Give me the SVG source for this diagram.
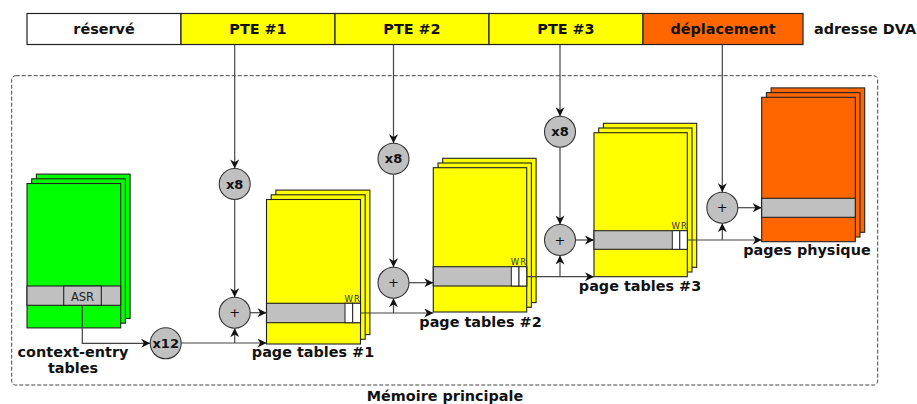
<svg xmlns="http://www.w3.org/2000/svg" width="917" height="404" viewBox="0 0 917 404">
<defs>
<style>
.cell{stroke:#222;stroke-width:1.2}
.pg{stroke:#222;stroke-width:1.1}
.band{fill:#c0c0c0;stroke:#222;stroke-width:1.1}
.wr{fill:#fff;stroke:#222;stroke-width:1}
.op{fill:#c0c0c0;stroke:#333;stroke-width:1.1}
.t{font-family:"DejaVu Sans","Liberation Sans",sans-serif;font-weight:bold;font-size:14.4px;fill:#111;text-anchor:middle}
.ot{font-family:"DejaVu Sans","Liberation Sans",sans-serif;font-size:13px;fill:#111;text-anchor:middle}
.ob{font-weight:bold}
.sm{font-family:"DejaVu Sans","Liberation Sans",sans-serif;font-size:8.5px;fill:#333;text-anchor:middle}
.c{fill:none;stroke:#444;stroke-width:1.2}
.ca{fill:none;stroke:#444;stroke-width:1.2;marker-end:url(#ah)}
</style>
<marker id="ah" viewBox="0 0 10 10" refX="10" refY="5" markerWidth="11" markerHeight="9" markerUnits="userSpaceOnUse" orient="auto">
<path d="M0,0 L10,5 L0,10 L3,5 z" fill="#111"/>
</marker>
</defs>

<!-- address bar -->
<g id="dva">
<rect class="cell" x="27" y="13.5" width="154" height="31" fill="#ffffff"/>
<rect class="cell" x="181" y="13.5" width="154" height="31" fill="#ffff00"/>
<rect class="cell" x="335" y="13.5" width="154" height="31" fill="#ffff00"/>
<rect class="cell" x="489" y="13.5" width="154" height="31" fill="#ffff00"/>
<rect class="cell" x="643" y="13.5" width="160" height="31" fill="#ff6600"/>
<text class="t" x="104" y="34.3">réservé</text>
<text class="t" x="258" y="34.3">PTE #1</text>
<text class="t" x="412" y="34.3">PTE #2</text>
<text class="t" x="566" y="34.3">PTE #3</text>
<text class="t" x="723" y="34.3">déplacement</text>
<text class="t" x="814" y="34.3" style="text-anchor:start">adresse DVA</text>
</g>

<!-- memory frame -->
<g id="memoire">
<rect x="11.7" y="75.7" width="866" height="309.3" rx="4" fill="none" stroke="#444" stroke-width="1" stroke-dasharray="4,2"/>
<text class="t" x="445" y="401">Mémoire principale</text>
</g>

<!-- context-entry tables -->
<g id="context-entry">
<rect class="pg" x="36.4" y="174.1" width="93.7" height="144.4" fill="#00ff00"/>
<rect class="pg" x="31.7" y="178.8" width="93.7" height="144.4" fill="#00ff00"/>
<rect class="pg" x="27" y="183.5" width="93.7" height="144.4" fill="#00ff00"/>
<rect class="band" x="27" y="286" width="93.7" height="19.3"/>
<rect class="band" x="63.7" y="286" width="37.6" height="19.3"/>
<text x="82.5" y="300.5" style="font-family:'DejaVu Sans','Liberation Sans',sans-serif;font-size:11.5px;fill:#222;text-anchor:middle">ASR</text>
<text class="t" x="73" y="357">context-entry</text>
<text class="t" x="73" y="373">tables</text>
</g>

<!-- page tables #1 -->
<g id="pt1">
<rect class="pg" x="275.9" y="190.1" width="94" height="144.5" fill="#ffff00"/>
<rect class="pg" x="271.2" y="194.8" width="94" height="144.5" fill="#ffff00"/>
<rect class="pg" x="266.5" y="199.5" width="94" height="144.5" fill="#ffff00"/>
<rect class="band" x="266.5" y="303.3" width="94" height="19.4"/>
<rect class="wr" x="345" y="303.3" width="7.7" height="19.4"/>
<rect class="wr" x="352.7" y="303.3" width="7.8" height="19.4"/>
<text class="sm" x="348.6" y="301.5">W</text>
<text class="sm" x="357" y="301.5">R</text>
<text class="t" x="313" y="357">page tables #1</text>
</g>

<!-- page tables #2 -->
<g id="pt2">
<rect class="pg" x="442.7" y="158.3" width="93.4" height="144.3" fill="#ffff00"/>
<rect class="pg" x="438" y="163" width="93.4" height="144.3" fill="#ffff00"/>
<rect class="pg" x="433.3" y="167.7" width="93.4" height="144.3" fill="#ffff00"/>
<rect class="band" x="433.3" y="266.7" width="93.4" height="19.3"/>
<rect class="wr" x="511.3" y="266.7" width="7.7" height="19.3"/>
<rect class="wr" x="519" y="266.7" width="7.7" height="19.3"/>
<text class="sm" x="514.9" y="265">W</text>
<text class="sm" x="523.3" y="265">R</text>
<text class="t" x="480.5" y="327.3">page tables #2</text>
</g>

<!-- page tables #3 -->
<g id="pt3">
<rect class="pg" x="603.4" y="123.3" width="93.3" height="144" fill="#ffff00"/>
<rect class="pg" x="598.7" y="128" width="93.3" height="144" fill="#ffff00"/>
<rect class="pg" x="594" y="132.7" width="93.3" height="144" fill="#ffff00"/>
<rect class="band" x="594" y="230.7" width="93.3" height="18.6"/>
<rect class="wr" x="672.3" y="230.7" width="7.5" height="18.6"/>
<rect class="wr" x="679.8" y="230.7" width="7.5" height="18.6"/>
<text class="sm" x="675.8" y="229">W</text>
<text class="sm" x="684" y="229">R</text>
<text class="t" x="640" y="290.7">page tables #3</text>
</g>

<!-- pages physique -->
<g id="pages">
<rect class="pg" x="771.1" y="87.9" width="93.6" height="144.4" fill="#ff6600"/>
<rect class="pg" x="766.4" y="92.6" width="93.6" height="144.4" fill="#ff6600"/>
<rect class="pg" x="761.7" y="97.3" width="93.6" height="144.4" fill="#ff6600"/>
<rect class="band" x="761.7" y="198.3" width="93.6" height="19"/>
<text class="t" x="807" y="255">pages physique</text>
</g>

<!-- operators -->
<g id="x12"><circle class="op" cx="165.7" cy="343.3" r="15.5"/><text class="ot ob" x="165.7" y="348">x12</text></g>
<g id="x8-1"><circle class="op" cx="234.7" cy="184" r="15.5"/><text class="ot ob" x="234.7" y="188.7">x8</text></g>
<g id="plus-1"><circle class="op" cx="234.7" cy="312.7" r="15.5"/><text class="ot" x="234.7" y="317.4">+</text></g>
<g id="x8-2"><circle class="op" cx="393.5" cy="158.7" r="15.5"/><text class="ot ob" x="393.5" y="163.4">x8</text></g>
<g id="plus-2"><circle class="op" cx="393.5" cy="282.7" r="15.5"/><text class="ot" x="393.5" y="287.4">+</text></g>
<g id="x8-3"><circle class="op" cx="560" cy="131.7" r="15.5"/><text class="ot ob" x="560" y="136.4">x8</text></g>
<g id="plus-3"><circle class="op" cx="560" cy="240" r="15.5"/><text class="ot" x="560" y="244.7">+</text></g>
<g id="plus-4"><circle class="op" cx="722.3" cy="207.7" r="15.5"/><text class="ot" x="722.3" y="212.4">+</text></g>

<!-- connectors -->
<g id="connectors">
<path class="ca" d="M234.7,44.5 V168.5"/>
<path class="ca" d="M234.7,199.5 V297.2"/>
<path class="ca" d="M393.5,44.5 V143.2"/>
<path class="ca" d="M393.5,174.2 V267.2"/>
<path class="ca" d="M560,44.5 V116.2"/>
<path class="ca" d="M560,147.2 V224.5"/>
<path class="ca" d="M722.3,44.5 V192.2"/>

<path class="ca" d="M82.3,305.3 V343.3 H150.2"/>
<path class="ca" d="M181.2,343 H266.5"/>
<path class="ca" d="M234.7,343 V328.2"/>
<path class="ca" d="M250.2,312.7 H266.5"/>

<path class="ca" d="M360.5,313 H433.3"/>
<path class="ca" d="M393.5,313 V298.2"/>
<path class="ca" d="M409,282.7 H433.3"/>

<path class="ca" d="M526.7,276.7 H594"/>
<path class="ca" d="M560,276.7 V255.5"/>
<path class="ca" d="M575.5,240 H594"/>

<path class="ca" d="M687.3,240 H761.7"/>
<path class="ca" d="M722.3,240 V223.2"/>
<path class="ca" d="M737.8,207.7 H761.7"/>
</g>
</svg>
